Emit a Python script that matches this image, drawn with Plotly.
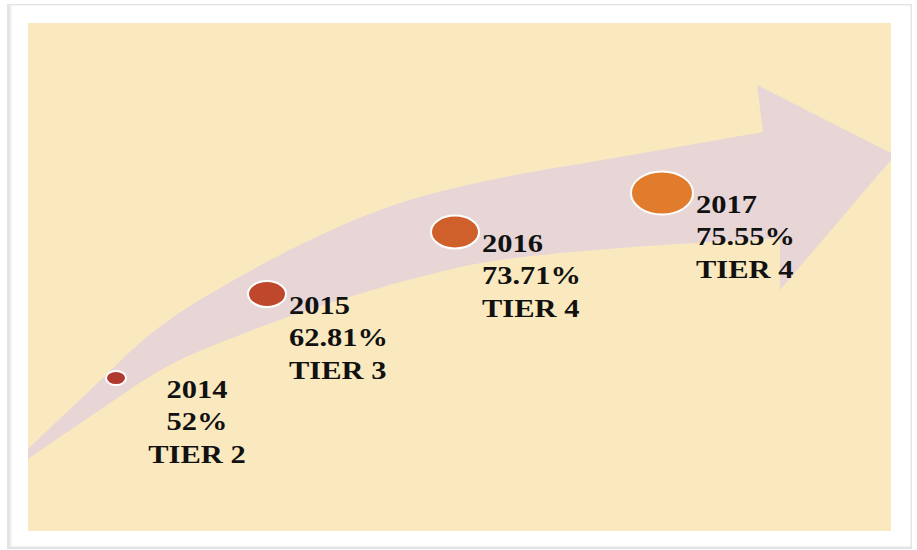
import plotly.graph_objects as go

# ================= DATA =================
years = [2014, 2015, 2016, 2017]
percents = [52, 62.81, 73.71, 75.55]
tiers = [2, 3, 4, 4]

# ================= LAYOUT CONSTANTS (pixel space) =================
W, H = 917, 550
stop_x = [116, 267, 455, 662]
stop_y = [378, 294, 232, 193]
stop_w = [20, 38, 48, 62]
stop_h = [14, 26, 33, 43]
stop_colors = ["#B03A2E", "#BF482C", "#CF602B", "#E07C2C"]

upper_edge = [(28, 449), (87, 393), (153, 332), (220, 288), (310, 240),
              (400, 203), (500, 178), (620, 157), (763, 132)]
lower_edge = [(28, 459), (100, 410), (170, 365), (253, 330), (330, 303),
              (420, 277), (500, 260), (620, 248), (780, 238)]


def smooth(points):
    """Catmull-Rom curve through points, as SVG cubic segments."""
    out = ""
    pts = [points[0]] + points + [points[-1]]
    for i in range(1, len(pts) - 2):
        p0, p1, p2, p3 = pts[i - 1], pts[i], pts[i + 1], pts[i + 2]
        c1 = (p1[0] + (p2[0] - p0[0]) / 6, p1[1] + (p2[1] - p0[1]) / 6)
        c2 = (p2[0] - (p3[0] - p1[0]) / 6, p2[1] - (p3[1] - p1[1]) / 6)
        out += f" C {c1[0]:.1f},{c1[1]:.1f} {c2[0]:.1f},{c2[1]:.1f} {p2[0]},{p2[1]}"
    return out


arrow_path = f"M {upper_edge[0][0]},{upper_edge[0][1]}" + smooth(upper_edge)
arrow_path += " L 757,85 L 891,153 L 891,160 L 780,290"
rev = lower_edge[::-1]
arrow_path += f" L {rev[0][0]},{rev[0][1]}" + smooth(rev) + " Z"

fig = go.Figure()

# ================= BACKGROUND =================
shapes = [
    dict(type="rect", x0=7, y0=4, x1=912, y1=549, line=dict(width=0),
         fillcolor="#e4e4e4", layer="below"),
    dict(type="rect", x0=10, y0=5, x1=911, y1=547, line=dict(width=0),
         fillcolor="#f3f3f3", layer="below"),
    dict(type="rect", x0=12, y0=6, x1=910, y1=546, line=dict(width=0),
         fillcolor="#ffffff", layer="below"),
    dict(type="rect", x0=28, y0=23, x1=891, y1=531, line=dict(width=0),
         fillcolor="#FAE9BE", layer="below"),
    dict(type="path", path=arrow_path, line=dict(width=0),
         fillcolor="#E8D6D7", layer="below"),
]

# ================= STOPS =================
for i in range(len(years)):
    shapes.append(dict(
        type="circle",
        x0=stop_x[i] - stop_w[i] / 2, x1=stop_x[i] + stop_w[i] / 2,
        y0=stop_y[i] - stop_h[i] / 2, y1=stop_y[i] + stop_h[i] / 2,
        fillcolor=stop_colors[i], line=dict(color="#ffffff", width=2),
    ))

annotations = []
for i in range(len(years)):
    label = f"<b>{years[i]}<br>{percents[i]:g}%<br>TIER {tiers[i]}</b>"
    if i == 0:
        ax, anchor, align = stop_x[i] + 81, "center", "center"
    else:
        ax, anchor, align = stop_x[i] + stop_w[i] / 2 + 1, "left", "left"
    annotations.append(dict(
        x=ax, y=stop_y[i] - 4, text=label, showarrow=False,
        xanchor=anchor, yanchor="top", align=align,
        font=dict(family="Liberation Serif", size=25, color="#111111"),
    ))

fig.add_trace(go.Scatter(x=[0, W], y=[0, H], mode="markers",
                         marker=dict(opacity=0), hoverinfo="skip",
                         showlegend=False))

fig.update_layout(
    width=W, height=H,
    margin=dict(l=0, r=0, t=0, b=0),
    paper_bgcolor="#ffffff", plot_bgcolor="#ffffff",
    shapes=shapes, annotations=annotations,
    xaxis=dict(range=[0, W], visible=False, fixedrange=True),
    yaxis=dict(range=[H, 0], visible=False, fixedrange=True),
    showlegend=False,
)

# the source image is a bit stretched sideways: widen the label text to match
post = """
document.body.style.margin = '0';
document.querySelectorAll('.annotation-text').forEach(function (t) {
    t.style.transformBox = 'fill-box';
    t.style.transformOrigin = t.getAttribute('text-anchor') === 'middle' ? 'center' : 'left';
    t.style.transform = 'scaleX(1.22)';
});
"""

fig.write_html("out.html", config={"displayModeBar": False}, post_script=post)
